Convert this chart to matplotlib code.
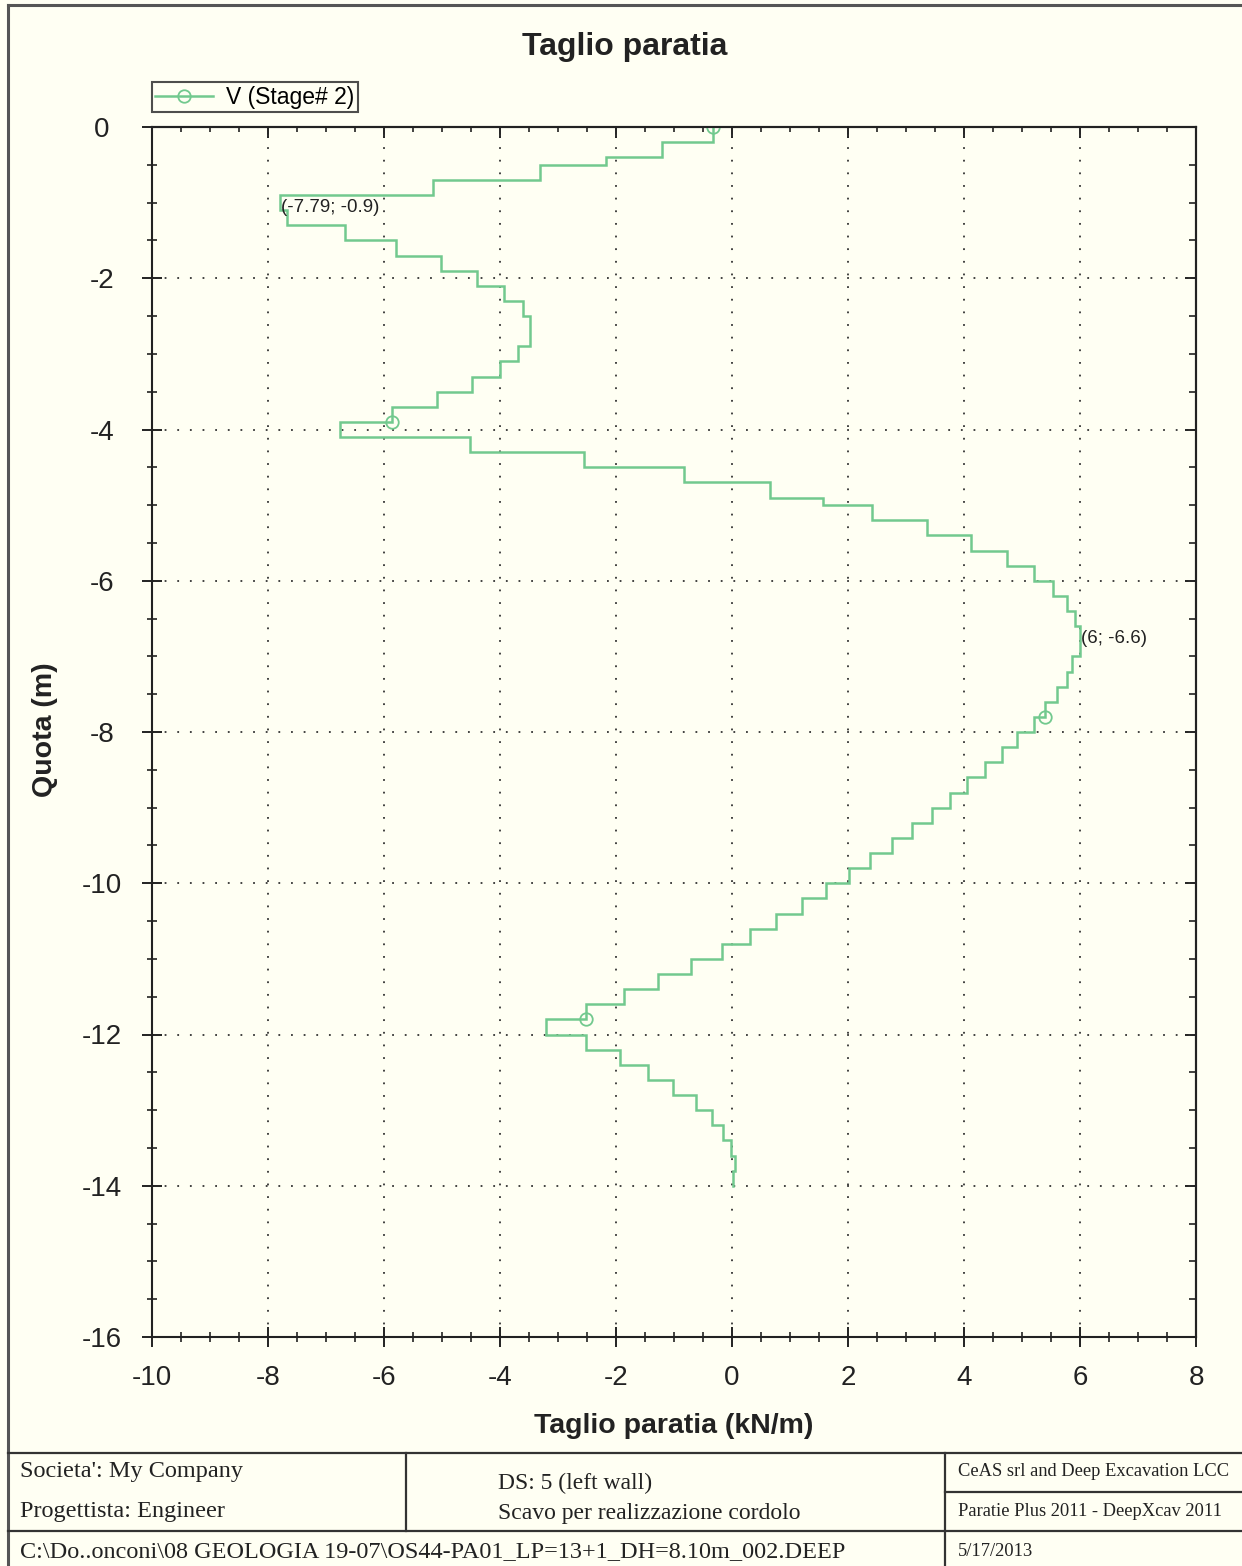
import numpy as np
import matplotlib
matplotlib.use("Agg")
import matplotlib.pyplot as plt
from matplotlib.lines import Line2D

plt.rcParams["axes.unicode_minus"] = False
plt.rcParams["font.family"] = ["Liberation Sans", "DejaVu Sans"]

# ---- data: shear along the wall (constant per element) ----
depth_nodes = [0.0, -0.2, -0.4, -0.5, -0.7, -0.9, -1.1, -1.3, -1.5, -1.7,
               -1.9, -2.1, -2.3, -2.5, -2.7, -2.9, -3.1, -3.3, -3.5, -3.7,
               -3.9, -4.1, -4.3, -4.5, -4.7, -4.9, -5.0, -5.2, -5.4, -5.6,
               -5.8, -6.0, -6.2, -6.4, -6.6, -6.8, -7.0, -7.2, -7.4, -7.6,
               -7.8, -8.0, -8.2, -8.4, -8.6, -8.8, -9.0, -9.2, -9.4, -9.6,
               -9.8, -10.0, -10.2, -10.4, -10.6, -10.8, -11.0, -11.2, -11.4, -11.6,
               -11.8, -12.0, -12.2, -12.4, -12.6, -12.8, -13.0, -13.2, -13.4, -13.6,
               -13.8, -14.0]
shear = [-0.32, -1.21, -2.17, -3.31, -5.16, -7.79, -7.67, -6.68, -5.79, -5.02,
         -4.40, -3.93, -3.61, -3.48, -3.48, -3.69, -4.00, -4.48, -5.09, -5.86,
         -6.76, -4.51, -2.55, -0.83, 0.65, 1.57, 2.41, 3.37, 4.12, 4.74,
         5.20, 5.53, 5.78, 5.91, 6.00, 6.00, 5.87, 5.77, 5.61, 5.40,
         5.20, 4.92, 4.65, 4.37, 4.06, 3.76, 3.44, 3.10, 2.75, 2.38,
         2.02, 1.62, 1.20, 0.75, 0.31, -0.18, -0.70, -1.28, -1.87, -2.52,
         -3.21, -2.52, -1.93, -1.45, -1.01, -0.62, -0.35, -0.15, -0.01, 0.06,
         0.02]
series_label = "V (Stage# 2)"
labelled_elements = [5, 34]          # elements whose (V; z) is written on the plot
marker_step = 20                     # a circle every 20 elements

x_ticks = list(range(-10, 9, 2))
y_ticks = list(range(-16, 1, 2))

title = "Taglio paratia"
x_title = "Taglio paratia (kN/m)"
y_title = "Quota (m)"

footer = {
    "company": "Societa': My Company",
    "designer": "Progettista: Engineer",
    "ds": "DS: 5 (left wall)",
    "stage": "Scavo per realizzazione cordolo",
    "vendor": "CeAS srl and Deep Excavation LCC",
    "product": "Paratie Plus 2011 - DeepXcav 2011",
    "path": "C:\\Do..onconi\\08 GEOLOGIA 19-07\\OS44-PA01_LP=13+1_DH=8.10m_002.DEEP",
    "date": "5/17/2013",
}

# ---- style ----
W, H = 1242, 1566
BG = "#FFFFF3"
GREEN = "#72C98E"
INK = "#222222"

fig = plt.figure(figsize=(W / 100, H / 100), dpi=100)
fig.patch.set_facecolor(BG)


def fx(px):
    return px / W


def fy(py):
    return 1 - py / H


ax = fig.add_axes([fx(152), fy(1337), fx(1196) - fx(152), fy(127) - fy(1337)])
ax.set_facecolor(BG)

# step outline: each element drawn as a vertical segment, joined by horizontals
xs = np.repeat(np.asarray(shear), 2)
zs = np.column_stack([depth_nodes[:-1], depth_nodes[1:]]).ravel()
ax.plot(xs, zs, color=GREEN, lw=1.8, solid_joinstyle="miter")

mark_idx = [0] + [2 * k + 1 for k in range(marker_step - 1, len(shear), marker_step)]
ax.plot(xs[mark_idx], zs[mark_idx], linestyle="none", marker="o", ms=9,
        mfc="none", mec=GREEN, mew=1.3)

for k in labelled_elements:
    v, z = shear[k], depth_nodes[k]
    ax.annotate(f"({v:g}; {z:g})", xy=(v, z), xytext=(1, -4),
                textcoords="offset pixels", ha="left", va="top",
                fontsize=13.5, color=INK)

ax.set_xlim(-10, 8)
ax.set_ylim(-16, 0)

ax.grid(True, which="major", color="#333333", linestyle=(0, (1, 6)), lw=1.3)

ax.set_xticks(x_ticks)
ax.set_xticklabels([str(t) for t in x_ticks])
ax.set_yticks(y_ticks)
ax.set_yticklabels([str(t) for t in y_ticks], ha="center")
ax.set_xticks(np.arange(-10, 8.01, 0.5), minor=True)
ax.set_yticks(np.arange(-16, 0.01, 0.5), minor=True)
ax.tick_params(which="major", direction="inout", length=14, width=1.4,
               colors=INK, labelsize=20, top=False, right=False)
ax.tick_params(which="minor", direction="inout", length=7, width=1.2,
               colors=INK, top=False, right=False)
ax.tick_params(axis="x", which="major", pad=13)
ax.tick_params(axis="y", which="major", pad=29)

for s in ax.spines.values():
    s.set_linewidth(1.5)
    s.set_color(INK)

# inward ticks along top and right edges
secx = ax.secondary_xaxis("top")
secx.set_xticks(x_ticks)
secx.set_xticks(np.arange(-10, 8.01, 0.5), minor=True)
secx.tick_params(which="major", direction="in", length=8, width=1.4,
                 colors=INK, labeltop=False)
secx.tick_params(which="minor", direction="in", length=3.6, width=1.2, colors=INK)
secx.spines["top"].set_linewidth(1.5)
secx.spines["top"].set_color(INK)

secy = ax.secondary_yaxis("right")
secy.set_yticks(y_ticks)
secy.set_yticks(np.arange(-16, 0.01, 0.5), minor=True)
secy.tick_params(which="major", direction="in", length=8, width=1.4,
                 colors=INK, labelright=False)
secy.tick_params(which="minor", direction="in", length=5, width=1.2, colors=INK)
secy.spines["right"].set_linewidth(1.5)
secy.spines["right"].set_color(INK)

# legend above the plot area
proxy = Line2D([], [], color=GREEN, lw=1.8, marker="o", ms=9, mfc="none",
               mec=GREEN, mew=1.3)
leg = ax.legend([proxy], [series_label], loc="lower left",
                bbox_to_anchor=(0, 1 + 15 / 1210), borderaxespad=0,
                frameon=True, fancybox=False, fontsize=16.5, handlelength=2.5,
                handletextpad=0.6, borderpad=0.15, numpoints=1)
leg.get_frame().set_edgecolor(INK)
leg.get_frame().set_linewidth(1.5)
leg.get_frame().set_facecolor(BG)

# titles
fig.text(fx(625), fy(47), title, ha="center", va="center", fontsize=23,
         fontweight="bold", color=INK)
fig.text(fx(674), fy(1426), x_title, ha="center", va="center", fontsize=20.5,
         fontweight="bold", color=INK)
fig.text(fx(45), fy(730), y_title, ha="center", va="center", rotation=90,
         fontsize=20.5, fontweight="bold", color=INK)


# page frame and footer table
def seg(x0, y0, x1, y1, lw=1.6, color="#333333"):
    fig.add_artist(Line2D([fx(x0), fx(x1)], [fy(y0), fy(y1)],
                          transform=fig.transFigure, lw=lw, color=color))


seg(8, 5, 1242, 5, lw=2.2, color="#555555")
seg(8, 5, 8, 1566, lw=2.2, color="#555555")
seg(8, 1453, 1242, 1453)
seg(8, 1531, 1242, 1531)
seg(406, 1453, 406, 1531)
seg(945, 1453, 945, 1566)
seg(945, 1492, 1242, 1492)

serif = ["Liberation Serif", "DejaVu Serif"]
fig.text(fx(20), fy(1472), footer["company"], ha="left", va="center",
         fontsize=17.5, family=serif, color=INK)
fig.text(fx(20), fy(1512), footer["designer"], ha="left", va="center",
         fontsize=17.5, family=serif, color=INK)
fig.text(fx(498), fy(1483), footer["ds"], ha="left", va="center",
         fontsize=17, family=serif, color=INK)
fig.text(fx(498), fy(1514), footer["stage"], ha="left", va="center",
         fontsize=17, family=serif, color=INK)
fig.text(fx(958), fy(1472), footer["vendor"], ha="left", va="center",
         fontsize=13.3, family=serif, color=INK)
fig.text(fx(958), fy(1511), footer["product"], ha="left", va="center",
         fontsize=13.3, family=serif, color=INK)
fig.text(fx(20), fy(1552), footer["path"], ha="left", va="center",
         fontsize=17.5, family=serif, color=INK)
fig.text(fx(958), fy(1552), footer["date"], ha="left", va="center",
         fontsize=13.3, family=serif, color=INK)

fig.savefig("out.png", dpi=100, facecolor=BG)
